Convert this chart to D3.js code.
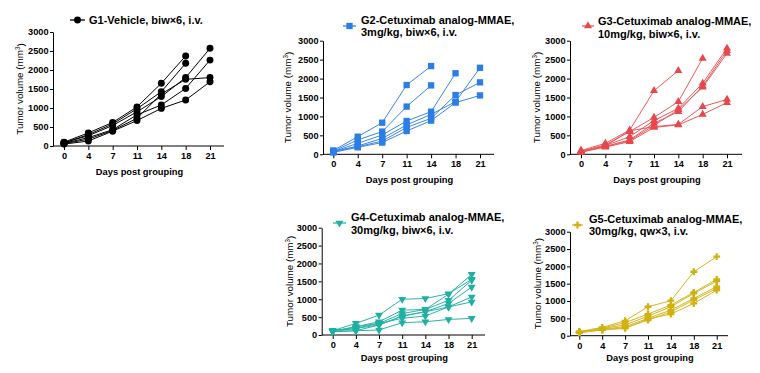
<!DOCTYPE html>
<html>
<head>
<meta charset="utf-8">
<script src="https://cdn.jsdelivr.net/npm/d3@7/dist/d3.min.js"></script>
<style>
  html, body { margin: 0; padding: 0; background: #fff; }
  svg { display: block; font-family: "Liberation Sans", Arial, sans-serif; }
</style>
</head>
<body>
<svg id="chart" width="760" height="373"></svg>
<script>
// ---------- data ----------
const days = ["0", "4", "7", "11", "14", "18", "21"];
const yTicks = [0, 500, 1000, 1500, 2000, 2500, 3000];
const yTitle = "Tumor volume (mm³)";
const xTitle = "Days post grouping";

const titleG1 = ["G1-Vehicle, biw×6, i.v."];
const titleG2 = ["G2-Cetuximab analog-MMAE,", "3mg/kg, biw×6, i.v."];
const titleG3 = ["G3-Cetuximab analog-MMAE,", "10mg/kg, biw×6, i.v."];
const titleG4 = ["G4-Cetuximab analog-MMAE,", "30mg/kg, biw×6, i.v."];
const titleG5 = ["G5-Cetuximab analog-MMAE,", "30mg/kg, qw×3, i.v."];

// each row = one animal, values at days 0,4,7,11,14,18,21 (null = no measurement)
const g1 = [
  [100, 345, 620, 1030, 1650, 2370, null],
  [80, 300, 580, 980, 1430, 2175, null],
  [90, 270, 540, 900, 1300, 1800, 2570],
  [70, 220, 430, 820, 1080, 1515, 2260],
  [60, 180, 410, 730, 1370, 1755, 1800],
  [50, 130, 390, 670, 990, 1210, 1690]
];
const g2 = [
  [100, 465, 835, 1830, 2330, null, null],
  [80, 380, 600, 1260, 1820, null, null],
  [70, 290, 510, 880, 1125, 2140, null],
  [60, 220, 420, 775, 1055, 1390, 2285],
  [90, 200, 350, 710, 950, 1565, 1900],
  [50, 185, 310, 615, 890, 1365, 1555]
];
const g3 = [
  [100, 290, 640, 1680, 2210, null, null],
  [80, 250, 600, 975, 1390, 2535, null],
  [70, 230, 465, 890, 1215, 1875, 2800],
  [60, 210, 380, 820, 1125, 1805, 2735],
  [90, 200, 360, 760, 1180, 1770, 2665],
  [50, 220, 620, 730, 790, 1260, 1450],
  [60, 190, 335, 710, 775, 1055, 1365]
];
const g4 = [
  [120, 325, 555, 1000, 1020, 1155, 1555],
  [110, 230, 370, 695, 715, 1140, 1695],
  [100, 230, 325, 600, 715, 970, 1530],
  [130, 185, 280, 530, 650, 880, 1340],
  [95, 185, 325, 465, 530, 785, 1065],
  [90, 120, 280, 530, 650, 785, 925],
  [100, 120, 140, 345, 370, 435, 465]
];
const g5 = [
  [120, 240, 430, 835, 1010, 1845, 2280],
  [100, 220, 375, 625, 885, 1250, 1625],
  [90, 210, 310, 565, 835, 1220, 1575],
  [110, 190, 260, 500, 740, 1075, 1415],
  [80, 170, 230, 450, 690, 1030, 1365],
  [95, 165, 210, 480, 625, 930, 1315]
];

// ---------- layout / style ----------
const panels = [
  { data: g1, title: titleG1, color: "#000000", line: "#000000", sym: d3.symbolCircle, size: 38, rot: 0,
    ax: 53, y0: 146, y1: 32, x0: 64, x1: 210, xEnd: 224, yTitleX: 20,
    tx: 89, ty: 20, lx0: 70, lx1: 85, ly: 20, xtY: 172 },
  { data: g2, title: titleG2, color: "#2b7de9", line: "#3a86ec", sym: d3.symbolSquare, size: 40, rot: 0,
    ax: 323, y0: 154.3, y1: 40.7, x0: 333.3, x1: 480, xEnd: 494, yTitleX: 288,
    tx: 361, ty: 20, lx0: 343, lx1: 356, ly: 26, xtY: 180 },
  { data: g3, title: titleG3, color: "#e8474c", line: "#ec5a5e", sym: d3.symbolTriangle, size: 28, rot: 0,
    ax: 570, y0: 154.3, y1: 40.7, x0: 581, x1: 727, xEnd: 742, yTitleX: 537,
    tx: 598, ty: 21.5, lx0: 582, lx1: 594, ly: 26, xtY: 180 },
  { data: g4, title: titleG4, color: "#1fb0a3", line: "#2bb5a8", sym: d3.symbolTriangle, size: 27, rot: 180,
    ax: 321.7, y0: 335, y1: 227.7, x0: 332.7, x1: 471.7, xEnd: 485, yTitleX: 290,
    tx: 351, ty: 217.5, lx0: 333, lx1: 346, ly: 223, xtY: 358 },
  { data: g5, title: titleG5, color: "#d2b10f", line: "#d6b622", sym: d3.symbolCross, size: 26, rot: 0,
    ax: 570, y0: 335.7, y1: 231.7, x0: 579.3, x1: 716.7, xEnd: 728, yTitleX: 538,
    tx: 589, ty: 219, lx0: 572, lx1: 583, ly: 225, xtY: 358 }
];

const svg = d3.select("#chart");

panels.forEach(p => {
  const g = svg.append("g");
  const x = d3.scalePoint().domain(days).range([p.x0, p.x1]);
  const y = d3.scaleLinear().domain([0, 3000]).range([p.y0, p.y1]);

  // y axis
  const ya = g.append("g").attr("transform", `translate(${p.ax},0)`)
    .call(d3.axisLeft(y).tickValues(yTicks).tickFormat(d3.format("d"))
      .tickSize(3).tickSizeOuter(0).tickPadding(1.5));
  ya.selectAll("text").attr("font-size", 9.2).attr("font-weight", "bold").attr("fill", "#000")
    .attr("font-family", "Liberation Sans, Arial, sans-serif");
  ya.selectAll("line, path").attr("stroke", "#000").attr("stroke-width", 1);

  // x axis
  const xa = g.append("g").attr("transform", `translate(0,${p.y0})`)
    .call(d3.axisBottom(x).tickSize(4).tickSizeOuter(0).tickPadding(2.5));
  xa.select(".domain").remove();
  xa.append("line").attr("x1", p.ax).attr("x2", p.xEnd).attr("y1", 0).attr("y2", 0)
    .attr("stroke", "#000").attr("stroke-width", 1);
  xa.selectAll("text").attr("font-size", 9.2).attr("font-weight", "bold").attr("fill", "#000")
    .attr("font-family", "Liberation Sans, Arial, sans-serif");
  xa.selectAll("line").attr("stroke", "#000").attr("stroke-width", 1);

  // axis titles
  g.append("text").attr("x", (p.ax + p.xEnd) / 2 + 1).attr("y", p.xtY).attr("dy", "0.35em")
    .attr("text-anchor", "middle").attr("font-size", 9.3).attr("font-weight", "bold").text(xTitle);
  const yt = g.append("text")
    .attr("transform", `translate(${p.yTitleX},${(p.y0 + p.y1) / 2}) rotate(-90)`)
    .attr("text-anchor", "middle").attr("dy", "0.35em").attr("font-size", 9.8);
  yt.append("tspan").text("Tumor volume (mm");
  yt.append("tspan").attr("font-size", 6.3).attr("dy", "-0.5em").text("3");
  yt.append("tspan").attr("dy", "0.35em").text(")");

  // lines
  const lineGen = d3.line().defined(d => d[1] != null).x(d => x(d[0])).y(d => y(d[1]));
  p.data.forEach(series => {
    const pts = days.map((d, i) => [d, series[i]]);
    g.append("path").attr("d", lineGen(pts)).attr("fill", "none")
      .attr("stroke", p.line).attr("stroke-width", 1);
  });
  const symPath = d3.symbol().type(p.sym).size(p.size)();
  p.data.forEach(series => {
    days.forEach((d, i) => {
      if (series[i] == null) return;
      g.append("path").attr("d", symPath)
        .attr("transform", `translate(${x(d)},${y(series[i])}) rotate(${p.rot})`)
        .attr("fill", p.color);
    });
  });

  // legend / title
  g.append("line").attr("x1", p.lx0).attr("x2", p.lx1).attr("y1", p.ly).attr("y2", p.ly)
    .attr("stroke", p.line).attr("stroke-width", 1.3);
  g.append("path").attr("d", symPath)
    .attr("transform", `translate(${(p.lx0 + p.lx1) / 2},${p.ly}) rotate(${p.rot})`)
    .attr("fill", p.color);
  const tt = g.append("text").attr("font-size", 11).attr("font-weight", "bold").attr("fill", "#000");
  p.title.forEach((t, i) => {
    tt.append("tspan").attr("x", p.tx).attr("y", p.ty + i * 12.5).attr("dy", "0.35em").text(t);
  });
});
</script>
</body>
</html>
